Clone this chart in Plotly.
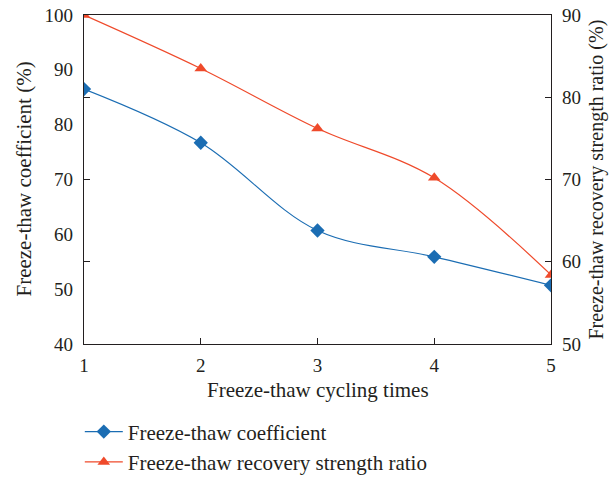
import plotly.graph_objects as go

# cycles and measured values
cycles = [1, 2, 3, 4, 5]
coefficient = [86.5, 76.7, 60.7, 55.9, 50.7]
recovery_ratio = [90.0, 83.5, 76.2, 70.2, 58.4]

font_family = "Liberation Serif, DejaVu Serif, serif"
text_color = "#231f20"

fig = go.Figure()

fig.add_trace(go.Scatter(
    x=cycles, y=coefficient,
    name="Freeze-thaw coefficient",
    mode="lines+markers",
    line=dict(color="#1b6db3", width=1.2, shape="spline", smoothing=1.0),
    marker=dict(symbol="diamond", size=11, color="#1b6db3"),
))

fig.add_trace(go.Scatter(
    x=cycles, y=recovery_ratio,
    name="Freeze-thaw recovery strength ratio",
    mode="lines+markers",
    yaxis="y2",
    line=dict(color="#ef4a2b", width=1.2, shape="spline", smoothing=1.0),
    marker=dict(symbol="triangle-up", size=11, color="#ef4a2b"),
))

axis_common = dict(
    showgrid=False, zeroline=False, automargin=False,
    showline=True, linecolor="#231f20", linewidth=1.3,
    tickfont=dict(family=font_family, size=19, color=text_color),
)

title_font = dict(family=font_family, size=21, color=text_color)

fig.update_layout(
    width=610, height=494,
    margin=dict(l=84, r=59, t=15, b=132),
    paper_bgcolor="white", plot_bgcolor="white",
    font=dict(family=font_family, color=text_color),
    xaxis=dict(
        **axis_common,
        range=[1, 5], tickvals=cycles,
        ticks="inside", ticklen=6, tickcolor="#231f20",
        ticklabelstandoff=4,
        mirror=True,
    ),
    yaxis=dict(
        **axis_common,
        range=[40, 100], tickvals=[40, 50, 60, 70, 80, 90, 100],
        ticks="", ticklabelstandoff=6,
    ),
    yaxis2=dict(
        **axis_common,
        overlaying="y", side="right",
        range=[50, 90], tickvals=[50, 60, 70, 80, 90],
        ticks="inside", ticklen=6, tickcolor="#231f20",
        ticklabelstandoff=6,
        mirror="ticks",
    ),
    legend=dict(
        x=-0.009, y=-0.205, xanchor="left", yanchor="top",
        orientation="v",
        font=dict(family=font_family, size=21, color=text_color),
        bgcolor="rgba(0,0,0,0)",
        tracegroupgap=0, itemwidth=38,
    ),
    annotations=[
        dict(text="Freeze-thaw cycling times", xref="paper", yref="paper",
             x=0.5, y=-0.141, xanchor="center", yanchor="middle",
             showarrow=False, font=title_font),
        dict(text="Freeze-thaw coefficient (%)", xref="paper", yref="paper",
             x=-0.1306, y=0.5, xanchor="center", yanchor="middle",
             textangle=-90, showarrow=False, font=title_font),
        dict(text="Freeze-thaw recovery strength ratio (%)", xref="paper", yref="paper",
             x=1.0985, y=0.5, xanchor="center", yanchor="middle",
             textangle=-90, showarrow=False,
             font=dict(family=font_family, size=20, color=text_color)),
    ],
)

# drop the default 8px body margin so the figure fills the window exactly
fig.write_html("out.html", config={"displayModeBar": False},
               post_script="document.body.style.margin = '0';")
